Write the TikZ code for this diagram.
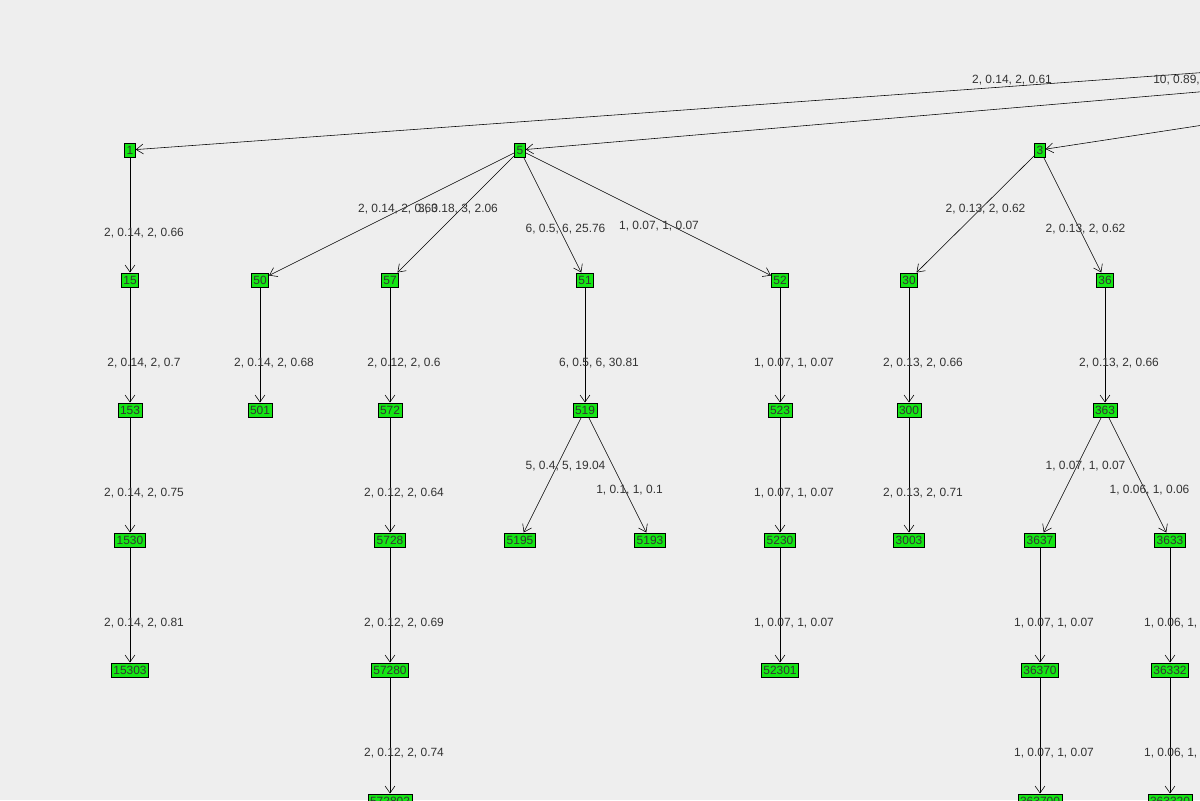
\documentclass[tikz,border=0pt]{standalone}
\usepackage{fontspec}
\setmainfont{Liberation Sans}
\usetikzlibrary{calc,arrows.meta}
\definecolor{bggray}{RGB}{238,238,238}
\definecolor{nodegreen}{RGB}{20,230,20}
\tikzset{ n/.style = { rectangle % node
        , draw
        , fill = nodegreen
        , inner sep = 1.5pt
        , minimum height = 0.36cm
        , font = \fontsize{8.5}{9}\selectfont\color{black!80}
        }
        , d/.style = { % edge label
        font = \fontsize{8.5}{9}\selectfont\color{black!80}
        , inner sep = 0pt
        }
        , e/.style = { draw = black, -{Straight Barb[length=5pt,width=7pt]} % edge
        }
        }
\newcommand{\edge}[5]{\draw [e] (#1) -- (#2);
        \node [d] at ($(#1)!0.5!(#2)+(#4,#5)$) {#3};}

\begin{document}
\begin{tikzpicture}[x=0.025cm, y=-0.025cm]
        \fill [bggray] (0,0) rectangle (1200,800);
        \clip (0,0) rectangle (1200,800);

        \coordinate (r1) at (1210,72);
        \coordinate (r2) at (1210,91);
        \coordinate (r3) at (1210,124);

        \node [n] (n1) at (130,150) {1};
        \node [n] (n5) at (520,150) {5};
        \node [n] (n3) at (1040,150) {3};

        \node [n] (n15) at (130,280) {15};
        \node [n] (n50) at (260,280) {50};
        \node [n] (n57) at (390,280) {57};
        \node [n] (n51) at (585,280) {51};
        \node [n] (n52) at (780,280) {52};
        \node [n] (n30) at (909,280) {30};
        \node [n] (n36) at (1105,280) {36};

        \node [n] (n153) at (130,410) {153};
        \node [n] (n501) at (260,410) {501};
        \node [n] (n572) at (390,410) {572};
        \node [n] (n519) at (585,410) {519};
        \node [n] (n523) at (780,410) {523};
        \node [n] (n300) at (909,410) {300};
        \node [n] (n363) at (1105,410) {363};

        \node [n] (n1530) at (130,540) {1530};
        \node [n] (n5728) at (390,540) {5728};
        \node [n] (n5195) at (520,540) {5195};
        \node [n] (n5193) at (650,540) {5193};
        \node [n] (n5230) at (780,540) {5230};
        \node [n] (n3003) at (909,540) {3003};
        \node [n] (n3637) at (1040,540) {3637};
        \node [n] (n3633) at (1170,540) {3633};

        \node [n] (n15303) at (130,670) {15303};
        \node [n] (n57280) at (390,670) {57280};
        \node [n] (n52301) at (780,670) {52301};
        \node [n] (n36370) at (1040,670) {36370};
        \node [n] (n36332) at (1170,670) {36332};

        \node [n] (n572802) at (390,801) {572802};
        \node [n] (n363700) at (1040,801) {363700};
        \node [n] (n363320) at (1170,801) {363320};

        \draw [e] (r1) -- (n1);
        \draw [e] (r2) -- (n5);
        \draw [e] (r3) -- (n3);
        \node [d] at (1012,80) {2, 0.14, 2, 0.61};
        \node [d, anchor=west] at (1153,80) {10, 0.89, 10, 5.12};

        \edge{n1}{n15}{2, 0.14, 2, 0.66}{14}{18}
        \edge{n5}{n50}{2, 0.14, 2, 0.63}{8}{-6}
        \edge{n5}{n57}{3, 0.18, 3, 2.06}{3}{-6}
        \edge{n5}{n51}{6, 0.5, 6, 25.76}{13}{14}
        \edge{n5}{n52}{1, 0.07, 1, 0.07}{9}{11}
        \edge{n3}{n30}{2, 0.13, 2, 0.62}{11}{-6}
        \edge{n3}{n36}{2, 0.13, 2, 0.62}{13}{14}

        \edge{n15}{n153}{2, 0.14, 2, 0.7}{14}{18}
        \edge{n50}{n501}{2, 0.14, 2, 0.68}{14}{18}
        \edge{n57}{n572}{2, 0.12, 2, 0.6}{14}{18}
        \edge{n51}{n519}{6, 0.5, 6, 30.81}{14}{18}
        \edge{n52}{n523}{1, 0.07, 1, 0.07}{14}{18}
        \edge{n30}{n300}{2, 0.13, 2, 0.66}{14}{18}
        \edge{n36}{n363}{2, 0.13, 2, 0.66}{14}{18}

        \edge{n153}{n1530}{2, 0.14, 2, 0.75}{14}{18}
        \edge{n572}{n5728}{2, 0.12, 2, 0.64}{14}{18}
        \edge{n519}{n5195}{5, 0.4, 5, 19.04}{13}{-9}
        \edge{n519}{n5193}{1, 0.1, 1, 0.1}{12}{15}
        \edge{n523}{n5230}{1, 0.07, 1, 0.07}{14}{18}
        \edge{n300}{n3003}{2, 0.13, 2, 0.71}{14}{18}
        \edge{n363}{n3637}{1, 0.07, 1, 0.07}{13}{-9}
        \edge{n363}{n3633}{1, 0.06, 1, 0.06}{12}{15}

        \edge{n1530}{n15303}{2, 0.14, 2, 0.81}{14}{18}
        \edge{n5728}{n57280}{2, 0.12, 2, 0.69}{14}{18}
        \edge{n5230}{n52301}{1, 0.07, 1, 0.07}{14}{18}
        \edge{n3637}{n36370}{1, 0.07, 1, 0.07}{14}{18}
        \edge{n3633}{n36332}{1, 0.06, 1, 0.06}{14}{18}

        \edge{n57280}{n572802}{2, 0.12, 2, 0.74}{14}{18}
        \edge{n36370}{n363700}{1, 0.07, 1, 0.07}{14}{18}
        \edge{n36332}{n363320}{1, 0.06, 1, 0.06}{14}{18}
\end{tikzpicture}
\end{document}
